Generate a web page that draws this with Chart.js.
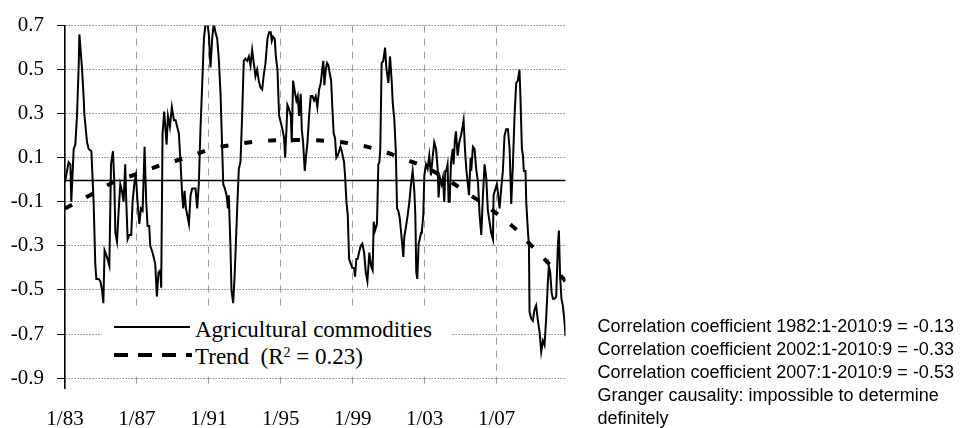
<!DOCTYPE html>
<html>
<head>
<meta charset="utf-8">
<script src="https://cdn.jsdelivr.net/npm/chart.js@4.4.1/dist/chart.umd.min.js"></script>
<style>
html,body{margin:0;padding:0;background:#fff;}
#wrap{position:relative;width:969px;height:428px;overflow:hidden;background:#fff;}
#c{position:absolute;left:0;top:0;}
#legend{position:absolute;left:102px;top:307px;width:350px;height:65px;background:#fff;}
.ltext{position:absolute;left:195px;font-family:'Liberation Serif','Times New Roman',serif;font-size:23px;line-height:27px;color:#000;white-space:nowrap;}
.ltext sup{font-size:14px;vertical-align:7px;line-height:0;}
#l1line{position:absolute;left:114px;top:326px;width:76px;height:2px;background:#000;}
#l2line{position:absolute;left:114px;top:353px;}
#notes{position:absolute;left:597.5px;top:314.5px;width:371px;font-family:'Liberation Sans',Arial,sans-serif;font-size:18px;line-height:23px;color:#000;}
</style>
</head>
<body>
<div id="wrap">
<canvas id="c" width="969" height="428"></canvas>
<div id="legend"></div>
<div id="l1line"></div>
<svg id="l2line" width="78" height="4"><line x1="0" y1="2" x2="78" y2="2" stroke="#000" stroke-width="4" stroke-dasharray="14 10"/></svg>
<div class="ltext" style="top:315.5px;">Agricultural commodities</div>
<div class="ltext" style="top:343px;">Trend&nbsp; (R<sup>2</sup> = 0.23)</div>
<div id="notes">Correlation coefficient 1982:1-2010:9 = -0.13<br>Correlation coefficient 2002:1-2010:9 = -0.33<br>Correlation coefficient 2007:1-2010:9 = -0.53<br>Granger causality: impossible to determine definitely</div>
</div>
<script>
// months since 1/83
const monthIdx = [
0,2.4,3.6,4.2,5.8,6.9,8.0,9.1,9.6,11.3,12.4,12.9,14.7,15.8,17.6,19.1,20.2,20.9,22.4,23.6,24.7,25.6,26.4,28.0,29.6,30.7,32.0,32.9,33.6,34.7,35.8,36.9,38.0,39.1,40.2,40.9,41.8,42.9,44.2,45.1,46.4,47.3,48.4,49.6,50.7,51.8,53.1,54.2,55.1,56.2,56.9,58.4,60.2,61.3,62.4,63.6,64.2,65.1,66.2,
67.8,68.7,70.0,71.3,72.7,73.8,74.9,76.0,77.1,78.2,78.9,79.8,80.7,81.6,82.7,83.8,84.9,86.0,87.1,88.2,89.3,90.4,91.6,92.7,93.8,94.9,96.0,97.1,98.2,99.3,100.4,101.6,102.7,103.8,104.9,105.6,106.7,107.8,108.7,109.3,110.4,111.1,112.2,113.1,113.8,114.9,116.0,117.1,118.2,119.3,120.4,121.6,122.7,123.8,124.9,126.0,127.1,128.2,129.3,130.4,131.6,132.7,133.8,
135.1,136.2,137.3,138.0,138.9,140.0,140.7,141.8,142.4,142.9,144.0,145.1,146.2,146.9,147.8,148.4,149.6,150.7,151.3,152.2,153.6,154.4,155.3,156.2,157.3,158.0,158.9,160.0,160.9,161.8,162.9,164.0,165.1,166.2,167.3,168.4,169.6,170.7,171.8,172.4,173.1,174.0,174.9,175.8,176.7,177.6,178.4,179.3,180.2,181.1,182.0,182.9,183.8,184.7,185.6,186.2,186.9,187.8,188.7,189.1,189.6,190.7,191.8,192.9,193.6,194.4,195.3,196.2,197.3,198.4,199.6,200.7,201.8,
203.1,204.2,205.3,206.0,206.9,208.2,209.1,209.8,210.4,211.3,212.4,213.6,214.4,215.8,216.9,218.0,218.7,219.8,220.7,221.6,222.4,223.3,224.2,225.1,225.8,226.4,227.6,228.7,229.8,230.9,232.0,233.1,233.8,234.4,235.1,236.0,236.7,237.6,238.2,239.1,239.8,240.9,242.0,243.1,244.2,245.3,246.4,247.6,248.7,249.3,250.2,251.3,252.2,253.1,253.8,254.4,255.3,256.0,256.7,257.6,258.7,259.3,260.2,260.9,262.0,263.1,264.2,265.3,266.0,266.9,267.8,268.7,269.6,
270.7,271.1,272.2,273.3,274.4,275.6,276.7,277.8,278.9,280.0,281.1,282.2,283.3,284.4,285.6,286.0,287.3,288.2,289.1,290.0,291.1,292.2,293.3,294.4,295.6,296.7,297.8,298.9,300.0,301.1,302.2,303.3,304.0,304.9,305.6,306.2,307.3,307.8,308.9,309.6,310.0,311.1,312.2,313.3,314.4,315.6,316.7,317.8,318.9,320.0,321.1,322.2,322.9,323.8,324.7,325.6,326.7,327.8,328.9,329.6,330.4,331.3,332.2,333.3,334.0
];
const agri = [
-0.01,0.08,0.07,-0.10,0.14,0.16,0.29,0.51,0.66,0.51,0.38,0.30,0.17,0.14,0.13,-0.10,-0.38,-0.45,-0.45,-0.46,-0.50,-0.56,-0.32,-0.35,-0.39,0.07,0.13,-0.01,-0.24,-0.28,-0.14,-0.02,-0.05,-0.10,0.07,-0.10,-0.27,-0.25,-0.25,-0.10,-0.01,0.02,-0.10,-0.20,-0.13,-0.14,0.15,-0.10,-0.21,-0.21,-0.30,-0.33,-0.38,-0.53,-0.42,-0.41,-0.49,0.21,0.31,
0.16,0.29,0.24,0.33,0.27,0.27,0.24,0.21,0.08,-0.07,-0.13,-0.05,-0.13,-0.16,-0.20,-0.07,-0.04,-0.04,-0.04,-0.13,-0.02,0.23,0.44,0.64,0.71,0.72,0.66,0.51,0.64,0.71,0.67,0.64,0.54,0.39,0.14,-0.02,-0.04,-0.07,-0.13,-0.07,-0.30,-0.50,-0.56,-0.45,-0.33,-0.13,0.05,0.08,0.29,0.54,0.55,0.54,0.56,0.52,0.59,0.53,0.47,0.50,0.45,0.42,0.41,0.48,0.53,
0.64,0.67,0.67,0.63,0.65,0.64,0.56,0.50,0.38,0.29,0.26,0.23,0.19,0.10,0.23,0.34,0.32,0.29,0.17,0.45,0.39,0.36,0.38,0.29,0.39,0.23,0.17,0.04,0.11,0.17,0.29,0.38,0.38,0.36,0.38,0.33,0.41,0.44,0.51,0.54,0.43,0.50,0.53,0.52,0.48,0.45,0.33,0.21,0.19,0.10,0.11,0.13,0.15,0.13,0.10,0.08,0.02,-0.10,-0.16,-0.25,-0.36,-0.38,-0.40,-0.40,-0.44,-0.36,-0.36,-0.33,-0.30,-0.29,-0.33,-0.42,-0.46,
-0.33,-0.39,-0.41,-0.19,-0.23,-0.20,0.07,0.08,0.14,0.53,0.54,0.60,0.51,0.44,0.56,0.45,0.35,0.27,0.14,-0.13,-0.14,-0.17,-0.23,-0.30,-0.35,-0.26,-0.21,-0.16,-0.10,-0.02,0.04,-0.05,-0.16,-0.42,-0.45,-0.29,-0.27,-0.24,-0.23,-0.16,0.02,0.07,0.05,0.11,0.02,0.10,0.17,0.14,0.05,-0.08,0.01,-0.02,0.01,-0.10,0.04,0.04,0.07,-0.10,-0.10,0.08,0.14,0.07,0.18,0.22,0.11,0.17,0.20,0.24,0.27,0.14,0.05,-0.01,-0.07,
0.10,0.04,0.15,0.14,0.05,-0.01,-0.16,-0.25,-0.07,0.07,0.01,-0.14,-0.19,-0.24,-0.27,-0.07,-0.04,-0.02,-0.07,-0.13,-0.04,0.04,0.20,0.23,0.23,0.14,-0.11,0.07,0.29,0.44,0.45,0.50,0.36,0.14,0.11,0.04,0.04,-0.10,-0.23,-0.30,-0.60,-0.63,-0.64,-0.59,-0.57,-0.64,-0.69,-0.78,-0.73,-0.75,-0.63,-0.47,-0.39,-0.42,-0.51,-0.54,-0.54,-0.53,-0.30,-0.23,-0.44,-0.54,-0.57,-0.64,-0.71
];
const trendIdx = [0,16.7,32.7,49.7,65.3,81,97.7,113.3,130,145.3,161.7,178.3,194.3,209.7,226,242.7,270.7,297.7,310,332.7,334];
const trend    = [-0.13,-0.07,-0.01,0.03,0.07,0.10,0.14,0.16,0.175,0.18,0.18,0.175,0.16,0.135,0.095,0.05,-0.07,-0.205,-0.29,-0.45,-0.46];
const xTickPos = [0,48,96,144,192,240,288];
const xTickLabels = ['1/83','1/87','1/91','1/95','1/99','1/03','1/07'];
const yTicks = [-0.9,-0.7,-0.5,-0.3,-0.1,0.1,0.3,0.5,0.7];
const yTickLabels = ['-0.9','-0.7','-0.5','-0.3','-0.1','0.1','0.3','0.5','0.7'];

const zeroLine = {
  id: 'zeroLine',
  beforeDatasetsDraw(chart) {
    const {ctx, chartArea: a, scales: {y}} = chart;
    const py = Math.round(y.getPixelForValue(0)) + 0.5;
    ctx.save();
    ctx.strokeStyle = '#000';
    ctx.lineWidth = 1.4;
    ctx.beginPath();
    ctx.moveTo(a.left, py);
    ctx.lineTo(a.right, py);
    ctx.stroke();
    ctx.restore();
  }
};

new Chart(document.getElementById('c'), {
  type: 'line',
  data: {
    datasets: [
      {
        label: 'Agricultural commodities',
        data: monthIdx.map((t, k) => ({x: t, y: agri[k]})),
        borderColor: '#000', borderWidth: 2, pointRadius: 0, tension: 0,
        borderJoinStyle: 'miter', order: 2
      },
      {
        label: 'Trend',
        data: trendIdx.map((t, k) => ({x: t, y: trend[k]})),
        borderColor: '#000', borderWidth: 4, borderDash: [8, 16], borderCapStyle: 'butt',
        pointRadius: 0, tension: 0.4, order: 1
      }
    ]
  },
  options: {
    responsive: false,
    animation: false,
    events: [],
    layout: {padding: {left: 0, right: 403.5, top: 17, bottom: 0}},
    plugins: {legend: {display: false}, tooltip: {enabled: false}},
    scales: {
      x: {
        type: 'linear', min: 0, max: 334,
        afterBuildTicks: s => { s.ticks = xTickPos.map(v => ({value: v})); },
        afterFit: s => { s.height = 40; },
        ticks: {
          callback: (v, i) => xTickLabels[i],
          font: {family: "'Liberation Serif', 'Times New Roman', serif", size: 21},
          color: '#000', padding: 19, maxRotation: 0, autoSkip: false
        },
        grid: {
          color: c => (c.tick && c.tick.value === 0) ? 'rgba(0,0,0,0)' : '#9a9a9a',
          lineWidth: 1, drawTicks: false
        },
        border: {display: false, dash: [7, 6]}
      },
      y: {
        type: 'linear', min: -0.945, max: 0.7,
        afterBuildTicks: s => { s.ticks = yTicks.map(v => ({value: v})); },
        afterFit: s => { s.width = 65; },
        ticks: {
          callback: (v, i) => yTickLabels[i],
          font: {family: "'Liberation Serif', 'Times New Roman', serif", size: 21},
          color: '#000', padding: 13
        },
        grid: {color: '#444', lineWidth: 1, tickColor: '#000', tickLength: 8, drawTicks: true},
        border: {display: true, color: '#000', width: 1.6, dash: [1, 2]}
      }
    }
  },
  plugins: [zeroLine]
});
</script>
</body>
</html>
